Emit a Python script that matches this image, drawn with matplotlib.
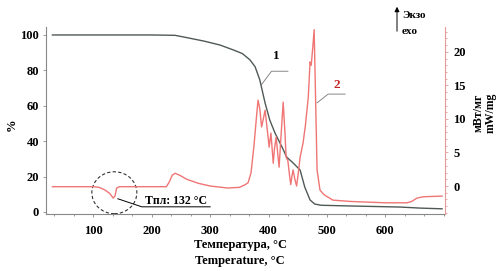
import matplotlib
matplotlib.use("Agg")
import matplotlib.pyplot as plt
from matplotlib.patches import Ellipse
from matplotlib.ticker import AutoMinorLocator

plt.rcParams['font.family'] = ['Liberation Serif', 'DejaVu Serif']
plt.rcParams['font.weight'] = 'bold'
plt.rcParams['font.size'] = 9

# ТГ кривая (1), масса %
tg_t = [30, 100, 200, 240, 260, 290, 317, 340, 355, 368, 377, 385, 394, 402,
        411, 423, 431, 442, 454, 462, 471, 479, 490, 540, 625, 660, 697]
tg_v = [100, 100, 100, 99.8, 98.5, 96.5, 94.3, 91.5, 89.5, 86, 82, 74.6, 61.6, 52,
        44.6, 36.7, 31, 27.7, 23.7, 14, 6.8, 4.5, 3.8, 3.4, 2.8, 2.2, 1.8]

# ДСК кривая (2), мВт/мг
dsc_t = [30, 60, 100, 110, 120, 128, 134, 137, 140, 145, 200, 225, 230, 235, 240,
         248, 260, 280, 300, 330, 350, 360, 365, 370, 375, 380, 382, 385, 388, 391,
         394, 397, 401, 404, 408, 410, 413, 416, 418, 421, 425, 428, 430, 433, 436,
         438, 440, 442, 445, 448, 451, 454, 459, 463, 468, 471, 473, 476, 478, 480,
         483, 488, 495, 510, 540, 600, 637, 645, 654, 665, 697]
dsc_v = [-0.1, -0.1, -0.1, -0.2, -0.6, -1.1, -1.8, -1.5, -0.3, -0.1, -0.1, -0.1, 0.6, 1.6, 1.9,
         1.6, 1.0, 0.4, 0.0, -0.3, -0.2, 0.2, 0.5, 2.0, 6.0, 11.0, 12.8, 11.5, 8.8, 10.0,
         11.3, 9.0, 5.8, 7.9, 3.4, 5.5, 7.3, 4.5, 2.8, 7.0, 12.5, 8.0, 4.3, 3.8, 1.5,
         0.2, 1.5, 2.4, 1.0, 0.0, 2.0, 4.3, 6.4, 9.0, 13.3, 18.5, 18.0, 21.0, 23.3, 15.0,
         2.4, -0.6, -1.3, -2.1, -2.3, -2.5, -2.5, -2.3, -1.8, -1.6, -1.5]

x_ticks = [100, 200, 300, 400, 500, 600]
left_ticks = [0, 20, 40, 60, 80, 100]
right_ticks = [0, 5, 10, 15, 20]

grey = '#505a55'
red = '#f07575'
pink = '#e89a9a'

fig = plt.figure(figsize=(4.98, 2.71), dpi=100)
ax = fig.add_axes([46/498, 1-214/271, (445-46)/498, (214-27)/271])
ax2 = ax.twinx()

ax.plot(tg_t, tg_v, color=grey, lw=1.0, zorder=3)
ax2.plot(dsc_t, dsc_v, color=red, lw=1.0)

ax.set_xlim(19, 702)
ax.set_ylim(-1.13, 104.5)
ax2.set_ylim(-4.17, 23.7)

ax.set_xticks(x_ticks)
ax.set_yticks(left_ticks)
ax2.set_yticks(right_ticks)
ax.xaxis.set_minor_locator(AutoMinorLocator(3))
ax2.yaxis.set_minor_locator(AutoMinorLocator(5))

for a in (ax, ax2):
    a.spines['top'].set_visible(False)
ax.spines['right'].set_visible(False)
ax.spines['left'].set_color('#888888')
ax.spines['bottom'].set_color('#888888')
ax2.spines['left'].set_visible(False)
ax2.spines['bottom'].set_visible(False)
ax2.spines['right'].set_color(pink)

ax.tick_params(axis='x', length=2, width=0.6, color='#888888', pad=6, labelsize=9)
ax.tick_params(axis='x', which='minor', length=1.5, width=0.6, color='#888888')
ax.tick_params(axis='y', length=2, width=0.6, color='#888888', pad=3, labelsize=9)
ax2.tick_params(axis='y', length=2, width=0.6, color=pink, pad=4, labelsize=9)
ax2.tick_params(axis='y', which='minor', length=1.5, width=0.6, color=pink)

# подписи осей
fig.text(12/498, 1-125/271, '%', rotation=90, ha='center', va='center', fontsize=9)
fig.text(240/498, 1-245/271, 'Температура, °С', ha='center', va='center', fontsize=9)
fig.text(240/498, 1-261/271, 'Temperature, °C', ha='center', va='center', fontsize=9)
fig.text(479/498, 1-113/271, 'мВт/мг', rotation=90, ha='center', va='center', fontsize=8.5)
fig.text(491/498, 1-113/271, 'mW/mg', rotation=90, ha='center', va='center', fontsize=8.5)

# стрелка Экзо
ax.annotate('', xy=(397/498, 1-4/271), xytext=(397/498, 1-34/271),
            xycoords='figure fraction', textcoords='figure fraction',
            arrowprops=dict(arrowstyle='-|>', color='black', lw=0.7, mutation_scale=7))
fig.text(414/498, 1-15/271, 'Экзо', ha='center', va='center', fontsize=8)
fig.text(410/498, 1-32/271, 'exo', ha='center', va='center', fontsize=8)

# метки кривых
ax.plot([388, 405, 433], [72, 79.5, 79.5], color='#888888', lw=0.7)
ax.text(414, 88, '1', ha='center', va='center', fontsize=9.5, color='black')
ax2.plot([483, 502, 531], [12.4, 13.7, 13.7], color='#888888', lw=0.7)
ax2.text(517, 15.0, '2', ha='center', va='center', fontsize=9.5, color='#c0282a')

# температура плавления
ax2.add_patch(Ellipse((136, -1.0), 77, 6.25, fill=False, ls=(0, (3, 2)),
                      color='#333333', lw=0.8))
ax2.plot([142, 183, 300], [-1.9, -3.1, -3.1], color='black', lw=0.7)
ax2.text(188, -2.75, 'Tпл: 132 °C', ha='left', va='baseline', fontsize=8.5)

fig.savefig('out.png', dpi=100)
